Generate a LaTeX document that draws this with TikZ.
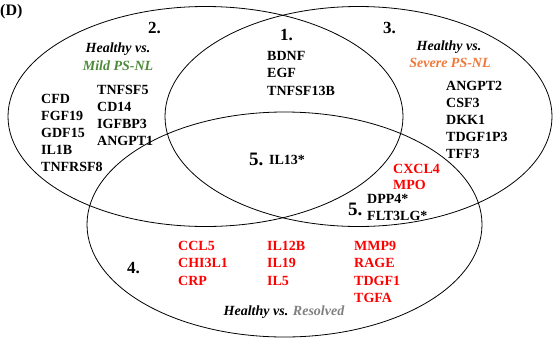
\documentclass[tikz,border=0pt]{standalone}
\usepackage{fontspec}
\setmainfont{Liberation Serif}
\definecolor{mildgreen}{RGB}{78,138,58}
\definecolor{sevorange}{RGB}{240,120,56}
\definecolor{resgray}{RGB}{128,128,128}
\definecolor{genered}{RGB}{255,0,0}
\begin{document}
\begin{tikzpicture}[x=1pt,y=-1pt,
  setline/.style={draw=black,line width=0.8pt},
  gene/.style={anchor=base west,inner sep=0pt,font=\fontsize{14}{17}\selectfont\bfseries},
  redgene/.style={gene,text=genered},
  region/.style={anchor=base west,inner sep=0pt,font=\fontsize{17}{19}\selectfont\bfseries},
  bigregion/.style={anchor=base west,inner sep=0pt,font=\fontsize{19}{21}\selectfont\bfseries},
  title/.style={anchor=base,inner sep=0pt,font=\fontsize{14}{17}\selectfont\bfseries\itshape}]
\useasboundingbox (0,0) rectangle (553,338);
% ellipses
\draw[setline] (205.5,116.5) ellipse [x radius=197.5pt, y radius=110pt];
\draw[setline] (358.5,116.5) ellipse [x radius=193.5pt, y radius=110pt];
\draw[setline] (284.5,224.5) ellipse [x radius=197.5pt, y radius=112.5pt];
% panel label
\node[anchor=base west,inner sep=0pt,font=\fontsize{16}{18}\selectfont\bfseries] (panel) at (0,15) {(D)};
% region 2
\node[region] (r2) at (148,33) {2.};
\node[title] (t2a) at (118,52) {Healthy vs.};
\node[title,text=mildgreen] (t2b) at (118,70) {Mild PS-NL};
\node[gene] (g2a) at (41,103) {CFD};
\node[gene] (g2b) at (41,120) {FGF19};
\node[gene] (g2c) at (41,137) {GDF15};
\node[gene] (g2d) at (41,154) {IL1B};
\node[gene] (g2e) at (41,171) {TNFRSF8};
\node[gene] (g2f) at (97,94) {TNFSF5};
\node[gene] (g2g) at (97,111) {CD14};
\node[gene] (g2h) at (97,128) {IGFBP3};
\node[gene] (g2i) at (97,145) {ANGPT1};
% region 1
\node[region] (r1) at (280,40) {1.};
\node[gene] (g1a) at (267,60) {BDNF};
\node[gene] (g1b) at (267,77) {EGF};
\node[gene] (g1c) at (267,95) {TNFSF13B};
% region 3
\node[region] (r3) at (383,33) {3.};
\node[title] (t3a) at (449,50) {Healthy vs.};
\node[title,text=sevorange] (t3b) at (450,67) {Severe PS-NL};
\node[gene] (g3a) at (446,90) {ANGPT2};
\node[gene] (g3b) at (446,107) {CSF3};
\node[gene] (g3c) at (446,124) {DKK1};
\node[gene] (g3d) at (446,141) {TDGF1P3};
\node[gene] (g3e) at (446,158) {TFF3};
% region 5 (centre)
\node[bigregion] (r5a) at (249,165) {5.};
\node[gene] (g5a) at (269,164) {IL13*};
% region 5 (right)
\node[redgene] (g5b) at (393,173) {CXCL4};
\node[redgene] (g5c) at (393,189) {MPO};
\node[bigregion] (r5b) at (348,215) {5.};
\node[gene] (g5d) at (367,203) {DPP4*};
\node[gene] (g5e) at (367,220) {FLT3LG*};
% region 4
\node[region] (r4) at (127,273) {4.};
\node[redgene] (g4a) at (178,250) {CCL5};
\node[redgene] (g4b) at (178,267) {CHI3L1};
\node[redgene] (g4c) at (178,285) {CRP};
\node[redgene] (g4d) at (267,250) {IL12B};
\node[redgene] (g4e) at (267,267) {IL19};
\node[redgene] (g4f) at (267,285) {IL5};
\node[redgene] (g4g) at (354,250) {MMP9};
\node[redgene] (g4h) at (354,267) {RAGE};
\node[redgene] (g4i) at (354,285) {TDGF1};
\node[redgene] (g4j) at (354,302) {TGFA};
\node[title] (t4) at (284,315) {Healthy vs. \textcolor{resgray}{Resolved}};
\end{tikzpicture}
\end{document}
